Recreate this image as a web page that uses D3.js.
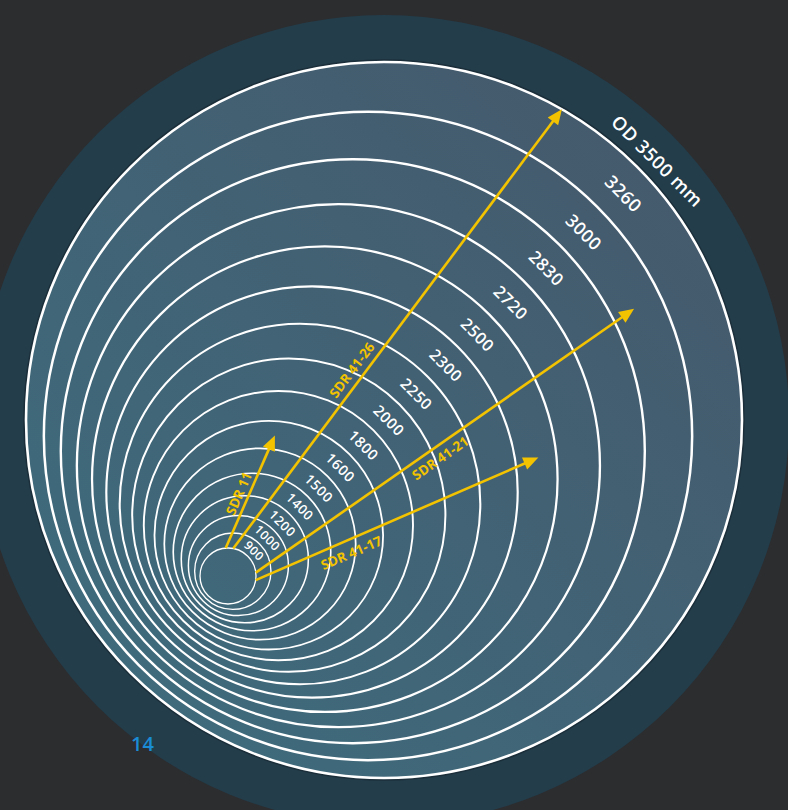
<!DOCTYPE html>
<html>
<head>
<meta charset="utf-8">
<script src="https://cdn.jsdelivr.net/npm/d3@7"></script>
<style>
    html, body { margin: 0; padding: 0; background: #2c2d2f; }
    svg { display: block; }
</style>
</head>
<body>
<svg class="chart"></svg>
<script>
// pipe outside diameters, mm (smallest to largest)
const diameters = [900, 1000, 1200, 1400, 1500, 1600, 1800, 2000, 2250, 2300, 2500, 2720, 2830, 3000, 3260, 3500];
const ringLabels = ["900", "1000", "1200", "1400", "1500", "1600", "1800", "2000", "2250", "2300",
    "2500", "2720", "2830", "3000", "3260", "OD 3500 mm"];

// SDR ranges and the outside diameter each arrow reaches, mm
const sdrNames = ["SDR 11", "SDR 41-26", "SDR 41-21", "SDR 41-17"];
const sdrReach = [1700, 3500, 3117, 2625];

const pageNumber = "14";

const width = 788;
const height = 810;

const svg = d3.select(".chart")
    .attr("width", width)
    .attr("height", height);

svg.append("rect")
    .attr("width", width)
    .attr("height", height)
    .attr("fill", "#2c2d2f");

const defs = svg.append("defs");
const grad = defs.append("linearGradient")
    .attr("id", "diskFill")
    .attr("x1", 0).attr("y1", 1)
    .attr("x2", 1).attr("y2", 0);
grad.append("stop").attr("offset", "0%").attr("stop-color", "#3d6e7f");
grad.append("stop").attr("offset", "100%").attr("stop-color", "#46576a");

// diameter -> ring position -> radius -> centre (rings get wider apart outwards)
const index = d3.scaleLinear()
    .domain(diameters)
    .range(diameters.map((d, i) => i));
const spread = 5.5;
const radius = d3.scalePow()
    .exponent(2)
    .domain([spread, spread + diameters.length - 1])
    .range([28, 358]);
const cx = d3.scaleLinear().domain([28, 358]).range([228, 384]);
const cy = d3.scaleLinear().domain([28, 358]).range([576, 420]);

const ring = (d) =>
{
    const r = radius(index(d) + spread);
    return {r: r, x: cx(r), y: cy(r)};
};

const onRing = (d, deg) =>
{
    const c = ring(d);
    const a = deg * Math.PI / 180;
    return [c.x + c.r * Math.cos(a), c.y + c.r * Math.sin(a)];
};

const outer = ring(d3.max(diameters));

// dark collar and shaded disk
svg.append("circle")
    .attr("cx", outer.x)
    .attr("cy", outer.y)
    .attr("r", outer.r + 47)
    .attr("fill", "#233d4b");

svg.append("circle")
    .attr("cx", outer.x)
    .attr("cy", outer.y)
    .attr("r", outer.r + 2)
    .attr("fill", "none")
    .attr("stroke", "#15242d")
    .attr("stroke-opacity", 0.6)
    .attr("stroke-width", 1.5);

svg.append("circle")
    .attr("cx", outer.x)
    .attr("cy", outer.y)
    .attr("r", outer.r)
    .attr("fill", "url(#diskFill)");

const strokeW = d3.scaleLinear()
    .domain([0, diameters.length - 1])
    .range([1.3, 2.6]);

svg.selectAll(".ring")
    .data(diameters)
    .enter()
    .append("circle")
    .attr("class", "ring")
    .attr("cx", (d) => ring(d).x)
    .attr("cy", (d) => ring(d).y)
    .attr("r", (d) => ring(d).r)
    .attr("fill", "none")
    .attr("stroke", "#ffffff")
    .attr("stroke-width", (d, i) => strokeW(i));

// ring labels along the 45 degree line, between a ring and the next one
const fontSize = d3.scaleLinear()
    .domain([0, diameters.length - 1])
    .range([12, 18.5]);

const labelPoint = (d, i) =>
{
    const p = onRing(d, -45);
    let q;
    if (i < diameters.length - 1)
    {
        const n = onRing(diameters[i + 1], -45);
        q = [(p[0] + n[0]) / 2, (p[1] + n[1]) / 2];
    } else
    {
        q = [p[0] + 13.5, p[1] - 13.5];
    }
    const u = q[0] - 228;
    return [q[0] + u * 0.017, q[1] + u * 0.017];
};

svg.selectAll(".ring-label")
    .data(diameters)
    .enter()
    .append("text")
    .attr("class", "ring-label")
    .attr("transform", (d, i) =>
    {
        const p = labelPoint(d, i);
        return `translate(${p[0]},${p[1]}) rotate(45)`;
    })
    .attr("text-anchor", "middle")
    .attr("dominant-baseline", "central")
    .style("font-family", "'Open Sans', 'DejaVu Sans', sans-serif")
    .style("font-weight", 600)
    .style("font-size", (d, i) => `${fontSize(i)}px`)
    .style("letter-spacing", "0.5px")
    .attr("fill", "#ffffff")
    .text((d, i) => ringLabels[i]);

// arrows from the smallest pipe out to the largest diameter of each SDR range
const arrowLayout = [
    {start: -94.7, end: -84.2, at: 0.45, off: 10},
    {start: -79.2, end: -60.2, at: 0.39, off: 12},
    {start: -7.0, end: -26.3, at: 0.47, off: -11.5},
    {start: 8.4, end: -7.1, at: 0.32, off: -13}
];

const yellow = "#f4c300";
const headLen = 15;
const headHalf = 6.5;

sdrNames.forEach((name, i) =>
{
    const lay = arrowLayout[i];
    const s = onRing(diameters[0], lay.start);
    const e = onRing(sdrReach[i], lay.end);
    const dx = e[0] - s[0];
    const dy = e[1] - s[1];
    const len = Math.hypot(dx, dy);
    const ux = dx / len;
    const uy = dy / len;
    const bx = e[0] - ux * headLen;
    const by = e[1] - uy * headLen;

    const g = svg.append("g").attr("class", "arrow");

    g.append("line")
        .attr("x1", s[0]).attr("y1", s[1])
        .attr("x2", bx + ux * 2).attr("y2", by + uy * 2)
        .attr("stroke", yellow)
        .attr("stroke-width", 2.6);

    g.append("path")
        .attr("d", `M${e[0]},${e[1]}L${bx + uy * headHalf},${by - ux * headHalf}L${bx - uy * headHalf},${by + ux * headHalf}Z`)
        .attr("fill", yellow);

    const px = s[0] + dx * lay.at + uy * lay.off;
    const py = s[1] + dy * lay.at - ux * lay.off;
    const ang = Math.atan2(dy, dx) * 180 / Math.PI;

    g.append("text")
        .attr("transform", `translate(${px},${py}) rotate(${ang})`)
        .attr("text-anchor", "middle")
        .attr("dominant-baseline", "central")
        .style("font-family", "'Open Sans', 'DejaVu Sans', sans-serif")
        .style("font-weight", 700)
        .style("font-size", "13.5px")
        .attr("fill", yellow)
        .text(name);
});

svg.append("text")
    .attr("x", 131)
    .attr("y", 751)
    .style("font-family", "'Open Sans', 'DejaVu Sans', sans-serif")
    .style("font-weight", 600)
    .style("font-size", "20px")
    .attr("fill", "#1a8bd5")
    .text(pageNumber);
</script>
</body>
</html>
